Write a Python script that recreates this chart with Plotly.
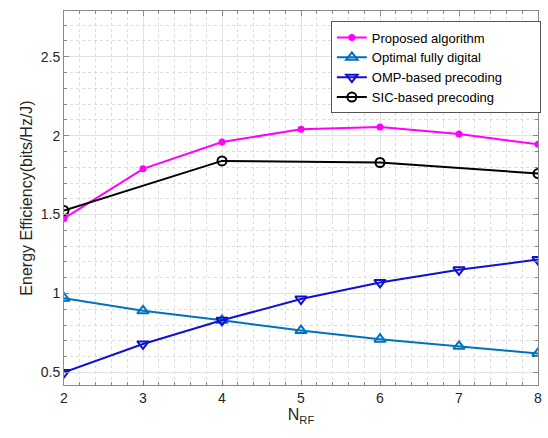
import plotly.graph_objects as go

n_rf = [2, 3, 4, 5, 6, 7, 8]
n_rf_sic = [2, 4, 6, 8]
proposed = [1.475, 1.79, 1.96, 2.04, 2.055, 2.01, 1.945]
optimal = [0.97, 0.89, 0.83, 0.765, 0.71, 0.665, 0.62]
omp = [0.50, 0.68, 0.83, 0.965, 1.07, 1.15, 1.215]
sic = [1.525, 1.84, 1.83, 1.76]
x_ticks = [2, 3, 4, 5, 6, 7, 8]
y_ticks = [0.5, 1, 1.5, 2, 2.5]
names = ["Proposed algorithm", "Optimal fully digital", "OMP-based precoding", "SIC-based precoding"]

FONT = "Liberation Sans, Arial, sans-serif"
PAD = "\u00a0" * 9

fig = go.Figure()
fig.add_trace(go.Scatter(x=n_rf, y=proposed, name=names[0], mode="lines+markers",
                         line=dict(color="#FF00FF", width=2),
                         marker=dict(symbol="circle", size=7, color="#FF00FF")))
fig.add_trace(go.Scatter(x=n_rf, y=optimal, name=names[1], mode="lines+markers",
                         line=dict(color="#0072BD", width=2),
                         marker=dict(symbol="triangle-up-open", size=10, color="#0072BD",
                                     line=dict(width=2, color="#0072BD"))))
fig.add_trace(go.Scatter(x=n_rf, y=omp, name=names[2] + PAD, mode="lines+markers",
                         line=dict(color="#1010D0", width=2),
                         marker=dict(symbol="triangle-down-open", size=10, color="#1010D0",
                                     line=dict(width=2, color="#1010D0"))))
fig.add_trace(go.Scatter(x=n_rf_sic, y=sic, name=names[3], mode="lines+markers",
                         line=dict(color="#000000", width=2),
                         marker=dict(symbol="circle-open", size=9, color="#000000",
                                     line=dict(width=2, color="#000000"))))

axis_common = dict(
    showline=True, linecolor="#8a8a8a", linewidth=1, mirror="ticks",
    ticks="inside", ticklen=5, tickcolor="#8a8a8a",
    showgrid=True, gridcolor="#e2e2e2", gridwidth=1, zeroline=False,
    tickfont=dict(family=FONT, size=14, color="#262626"),
)

fig.update_xaxes(range=[2, 8], tickvals=x_ticks,
                 title=dict(text="N<sub>RF</sub>", font=dict(family=FONT, size=16, color="#262626"), standoff=4),
                 minor=dict(dtick=0.2, tick0=2, showgrid=True, griddash="dot", gridcolor="#dcdcdc",
                            ticks="inside", ticklen=3, tickcolor="#8a8a8a"),
                 **axis_common)
fig.update_yaxes(range=[0.42, 2.79], tickvals=y_ticks, ticktext=["0.5", "1", "1.5", "2", "2.5"],
                 title=dict(text="Energy Efficiency(bits/Hz/J)", font=dict(family=FONT, size=16, color="#262626"), standoff=4),
                 minor=dict(dtick=0.1, tick0=0.5, showgrid=True, griddash="dot", gridcolor="#dcdcdc",
                            ticks="inside", ticklen=3, tickcolor="#8a8a8a"),
                 **axis_common)

fig.update_layout(
    width=548, height=438,
    margin=dict(l=64, r=6, t=11, b=53),
    paper_bgcolor="white", plot_bgcolor="white",
    font=dict(family=FONT, color="#262626"),
    showlegend=True,
    legend=dict(x=0.563, y=0.972, xanchor="left", yanchor="top",
                bgcolor="white", bordercolor="#555555", borderwidth=1,
                font=dict(family=FONT, size=13, color="#000000"),
                tracegroupgap=0, itemsizing="trace"),
)

fig.write_html("out.html")
